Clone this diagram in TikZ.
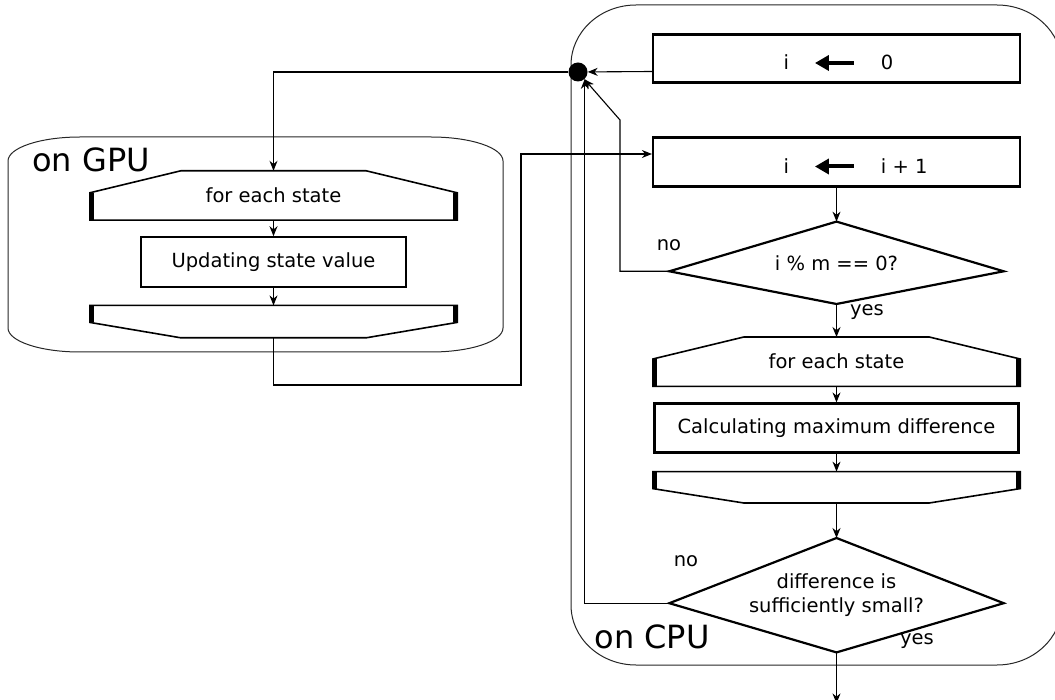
\documentclass[tikz,border=0pt]{standalone}
\usepackage{fontspec}
\setmainfont{DejaVu Sans}
\usetikzlibrary{arrows.meta,calc,positioning}
\newcommand\larr{\tikz[baseline={(0pt,-7pt)}]\draw[line width=4pt,-{Triangle[length=14pt,width=15pt]}] (39pt,0pt) -- (0pt,0pt);}
\begin{document}
\begin{tikzpicture}[x=1pt, y=-1pt,
  every node/.style={font=\fontsize{19.5}{24}\selectfont},
  box/.style={draw, line width=2.2pt, minimum height=49pt},
  loophead/.style={minimum width=367pt, minimum height=49pt},
  loopfoot/.style={minimum width=367pt, minimum height=32pt},
  cond/.style={align=center},
  flow/.style={line width=1.1pt, -{Stealth[length=10pt,width=8pt]}},
  frame/.style={line width=1pt, black!85},
  rim/.style={line width=1.6pt},
  bar/.style={line width=4.5pt},
  tag/.style={font=\fontsize{32}{38}\selectfont}]
\useasboundingbox (0,0) rectangle (1055,700);

% containers
\draw[frame] (8,161) arc[start angle=180, end angle=270, x radius=72, y radius=24] -- (431,137)
  arc[start angle=270, end angle=360, x radius=72, y radius=24] -- (503,328)
  arc[start angle=0, end angle=90, x radius=72, y radius=24] -- (80,352)
  arc[start angle=90, end angle=180, x radius=72, y radius=24] -- cycle;
\draw[frame] (571,65) arc[start angle=180, end angle=270, x radius=65, y radius=60] -- (997,5)
  arc[start angle=270, end angle=360, x radius=65, y radius=60] -- (1062,605)
  arc[start angle=0, end angle=90, x radius=65, y radius=60] -- (636,665)
  arc[start angle=90, end angle=180, x radius=65, y radius=60] -- cycle;
\node[tag] (gpu) at (91,160) {on GPU};
\node[tag] (cpu) at (652,637) {on CPU};

% CPU side
\node[box, minimum width=367pt, minimum height=48pt] (init) at (836.5,58.5) {\raisebox{-4pt}[15pt][0pt]{\makebox[106pt][l]{i\hspace{24pt}\larr\hspace{25pt}0}}};
\node[box, minimum width=367pt] (inc) at (836.5,162) {\raisebox{-4pt}[15pt][0pt]{\makebox[106pt][l]{i\hspace{24pt}\larr\hspace{25pt}i + 1}}};
\node[cond, minimum width=334pt, minimum height=82pt] (test) [below=34pt of inc] {i \% m == 0?};
\node[loophead] (each) [below=33pt of test] {for each state};
\node[box, minimum width=364pt] (maxdiff) [below=16pt of each] {Calculating maximum difference};
\node[loopfoot, minimum height=31pt] (eachend) [below=18pt of maxdiff] {};
\node[cond, minimum width=334pt, minimum height=114pt] (conv) [below=35pt of eachend] {difference is\\sufficiently small?};

% GPU side
\node[loophead] (gpueach) at (273.5,195.5) {for each state};
\node[box, minimum width=265pt, minimum height=50pt] (update) [below=16pt of gpueach] {Updating state value};
\node[loopfoot] (gpuend) [below=17pt of update] {};

\node[circle, fill, inner sep=0pt, minimum size=19pt] (join) at (578,72) {};

% outlines
\foreach \n/\d in {test/8.5, conv/8} {
  \draw[line width=2.2pt] (\n.north) -- ($(\n.east)+(0,\d)$) -- (\n.south) -- ($(\n.west)+(0,\d)$) -- cycle;
}
\foreach \n in {gpueach, each} {
  \draw[rim] ($(\n.north west)+(91,0)$) -- ($(\n.north east)+(-91,0)$) -- ($(\n.north east)+(0,22)$)
    -- (\n.south east) -- (\n.south west) -- ($(\n.north west)+(0,22)$) -- cycle;
  \draw[bar] ($(\n.north west)+(1.5,22)$) -- ($(\n.south west)+(1.5,0)$);
  \draw[bar] ($(\n.north east)+(-1.5,22)$) -- ($(\n.south east)+(-1.5,0)$);
}
\foreach \n in {gpuend, eachend} {
  \draw[rim] (\n.north west) -- (\n.north east) -- ($(\n.north east)+(0,17)$)
    -- ($(\n.south east)+(-91,0)$) -- ($(\n.south west)+(91,0)$) -- ($(\n.north west)+(0,17)$) -- cycle;
  \draw[bar] ($(\n.north west)+(1.5,0)$) -- ($(\n.north west)+(1.5,17)$);
  \draw[bar] ($(\n.north east)+(-1.5,0)$) -- ($(\n.north east)+(-1.5,17)$);
}

\coordinate (initw) at ($(init.west)+(0,13)$);
\coordinate (incw) at ($(inc.west)+(0,-8)$);
\coordinate (testw) at ($(test.west)+(0,8.5)$);
\coordinate (convw) at ($(conv.west)+(0,8)$);
\coordinate (gpuout) at (521,385);
\coordinate (back) at (620,120);
\coordinate (done) at ($(conv.south)+(0,51)$);

% connectors
\draw[flow] (initw) -- (join);
\draw[flow] (join) -| (gpueach.north);
\draw[flow] (gpueach.south) -- (update.north);
\draw[flow] (update.south) -- (gpuend.north);
\draw[flow] (gpuend.south) |- (gpuout) |- (incw);
\draw[flow] (inc.south) -- (test.north);
\draw[flow] (testw) -| (back) -- (join);
\draw[flow] (test.south) -- (each.north);
\draw[flow] (each.south) -- (maxdiff.north);
\draw[flow] (maxdiff.south) -- (eachend.north);
\draw[flow] (eachend.south) -- (conv.north);
\draw[flow] (convw) -| (join.south east);
\draw[flow] (conv.south) -- (done);

\node (no1) at (669,245) {no};
\node (yes1) at (867,312) {yes};
\node (no2) at (686,561) {no};
\node (yes2) at (917,641) {yes};
\end{tikzpicture}
\end{document}
